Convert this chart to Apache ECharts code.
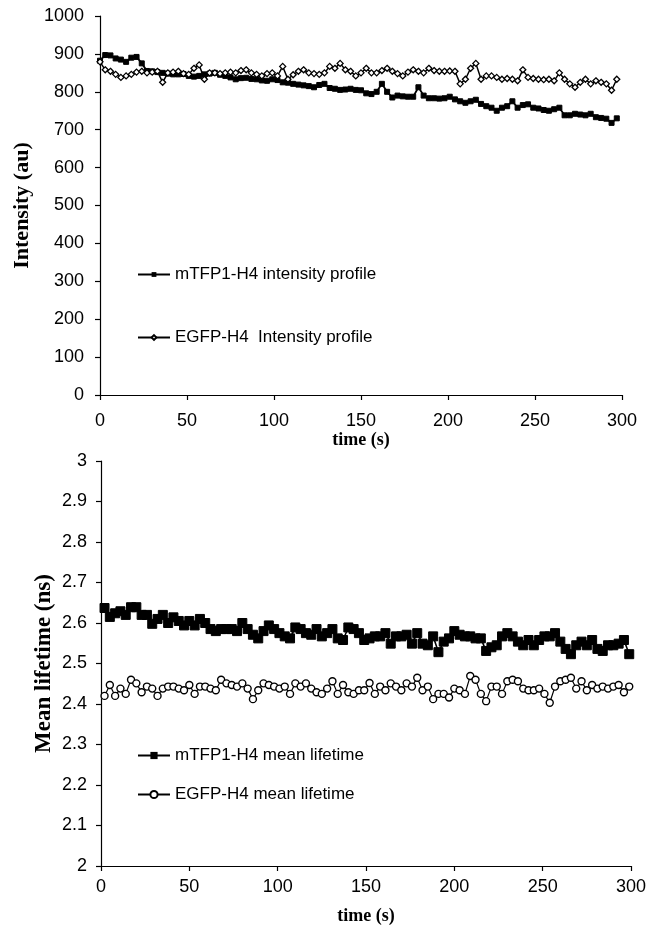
<!DOCTYPE html>
<html>
<head>
<meta charset="utf-8">
<script src="https://cdn.jsdelivr.net/npm/echarts@6/dist/echarts.min.js"></script>
<style>
html,body{margin:0;padding:0;background:#fff;}
#chart{width:661px;height:929px;}
</style>
</head>
<body>
<div id="chart"></div>
<script>
// ---------- DATA ----------
const timeTop = [0,3,6,9,12,15,18,21,24,27,30,33,36,39,42,45,48,51,54,57,60,63,66,69,72,75,78,81,84,87,90,93,96,99,102,105,108,111,114,117,120,123,126,129,132,135,138,141,144,147,150,153,156,159,162,165,168,171,174,177,180,183,186,189,192,195,198,201,204,207,210,213,216,219,222,225,228,231,234,237,240,243,246,249,252,255,258,261,264,267,270,273,276,279,282,285,288,291,294,297];
const mtfpIntensity = [882,897,896,888,885,879,890,892,875,855,854,852,850,848,846,846,847,842,840,842,846,848,850,845,842,838,833,836,837,834,833,830,829,833,831,825,824,821,819,817,815,812,818,821,810,808,805,806,808,805,804,796,794,800,821,800,785,790,788,787,787,812,790,783,783,782,783,787,780,775,771,775,779,768,762,758,750,758,762,775,758,765,767,758,756,752,750,754,758,738,738,742,740,738,742,733,731,729,718,730];
const egfpIntensity = [879,858,854,846,838,842,846,852,854,850,852,854,825,850,852,854,848,846,862,871,833,850,850,848,850,852,850,856,858,850,846,842,848,850,842,867,833,845,854,858,850,848,846,850,867,862,875,858,854,842,850,862,850,850,856,862,854,848,842,852,858,854,850,862,856,854,854,855,854,821,833,862,875,833,842,842,838,833,835,833,829,858,838,835,833,832,833,829,850,833,821,812,825,833,821,829,825,821,804,833];

const timeBottom = [2,5,8,11,14,17,20,23,26,29,32,35,38,41,44,47,50,53,56,59,62,65,68,71,74,77,80,83,86,89,92,95,98,101,104,107,110,113,116,119,122,125,128,131,134,137,140,143,146,149,152,155,158,161,164,167,170,173,176,179,182,185,188,191,194,197,200,203,206,209,212,215,218,221,224,227,230,233,236,239,242,245,248,251,254,257,260,263,266,269,272,275,278,281,284,287,290,293,296,299];
const mtfpLifetime = [2.637,2.615,2.624,2.629,2.62,2.639,2.639,2.62,2.62,2.598,2.61,2.62,2.60,2.614,2.605,2.594,2.605,2.594,2.61,2.60,2.585,2.58,2.585,2.585,2.585,2.58,2.60,2.585,2.571,2.562,2.58,2.594,2.585,2.575,2.567,2.562,2.589,2.585,2.575,2.571,2.585,2.567,2.575,2.585,2.562,2.558,2.589,2.585,2.575,2.558,2.562,2.567,2.567,2.575,2.549,2.567,2.567,2.571,2.549,2.575,2.549,2.545,2.567,2.528,2.554,2.562,2.58,2.571,2.567,2.567,2.562,2.562,2.531,2.54,2.545,2.567,2.575,2.567,2.554,2.545,2.558,2.545,2.558,2.567,2.567,2.575,2.554,2.536,2.523,2.545,2.554,2.545,2.558,2.536,2.531,2.545,2.545,2.549,2.558,2.523];
const egfpLifetime = [2.42,2.447,2.42,2.438,2.425,2.46,2.451,2.429,2.443,2.438,2.42,2.438,2.443,2.443,2.438,2.434,2.447,2.425,2.443,2.443,2.438,2.434,2.46,2.451,2.447,2.443,2.451,2.438,2.412,2.434,2.451,2.447,2.443,2.438,2.443,2.425,2.451,2.443,2.451,2.438,2.429,2.425,2.438,2.456,2.425,2.447,2.429,2.425,2.434,2.434,2.452,2.425,2.443,2.434,2.451,2.443,2.434,2.451,2.443,2.465,2.434,2.443,2.412,2.425,2.425,2.416,2.438,2.434,2.425,2.469,2.46,2.425,2.407,2.443,2.443,2.425,2.456,2.46,2.456,2.438,2.434,2.434,2.438,2.425,2.403,2.443,2.456,2.46,2.465,2.438,2.456,2.434,2.447,2.438,2.443,2.438,2.443,2.447,2.429,2.443];

const xTickLabels = ['0','50','100','150','200','250','300'];
const yTopTickLabels = ['0','100','200','300','400','500','600','700','800','900','1000'];
const yBottomTickLabels = ['2','2.1','2.2','2.3','2.4','2.5','2.6','2.7','2.8','2.9','3'];

const seriesNames = ['mTFP1-H4 intensity profile','EGFP-H4  Intensity profile','mTFP1-H4 mean lifetime','EGFP-H4 mean lifetime'];
const xTitle = 'time (s)';
const yTopTitle = 'Intensity (au)';
const yBottomTitle = 'Mean lifetime (ns)';

// ---------- CHART ----------
const SANS = "'Liberation Sans',Arial,sans-serif";
const SERIF = "'Liberation Serif','Times New Roman',serif";
const pair = (xs, ys) => xs.map((x, i) => [x, ys[i]]);

const axisCommon = {
  axisLine: {show: true, lineStyle: {color: '#000', width: 1.2}},
  axisTick: {show: true, inside: false, length: 5, lineStyle: {color: '#000', width: 1.2}},
  splitLine: {show: false}
};
const tickLabelStyle = {color: '#000', fontFamily: SANS, fontSize: 18};
const xTitleStyle = {color: '#000', fontFamily: SERIF, fontWeight: 'bold', fontSize: 18};

const chart = echarts.init(document.getElementById('chart'), null, {renderer: 'canvas'});
chart.setOption({
  backgroundColor: '#fff',
  animation: false,
  grid: [
    {left: 100, right: 39, top: 16, bottom: 534},
    {left: 101, right: 30, top: 461, bottom: 63}
  ],
  xAxis: [
    Object.assign({}, axisCommon, {
      gridIndex: 0, type: 'value', min: 0, max: 300, interval: 50,
      name: xTitle, nameLocation: 'middle', nameGap: 35, nameTextStyle: xTitleStyle,
      axisLabel: Object.assign({margin: 17, formatter: v => xTickLabels[Math.round(v / 50)]}, tickLabelStyle)
    }),
    Object.assign({}, axisCommon, {
      gridIndex: 1, type: 'value', min: 0, max: 300, interval: 50,
      name: xTitle, nameLocation: 'middle', nameGap: 41, nameTextStyle: xTitleStyle,
      axisLabel: Object.assign({margin: 12, formatter: v => xTickLabels[Math.round(v / 50)]}, tickLabelStyle)
    })
  ],
  yAxis: [
    Object.assign({}, axisCommon, {
      gridIndex: 0, type: 'value', min: 0, max: 1000, interval: 100,
      name: yTopTitle, nameLocation: 'middle', nameGap: 67, nameMoveOverlap: false,
      nameTextStyle: {color: '#000', fontFamily: SERIF, fontWeight: 'bold', fontSize: 22},
      axisLabel: Object.assign({margin: 16, formatter: v => yTopTickLabels[Math.round(v / 100)]}, tickLabelStyle)
    }),
    Object.assign({}, axisCommon, {
      gridIndex: 1, type: 'value', min: 2, max: 3, interval: 0.1,
      name: yBottomTitle, nameLocation: 'middle', nameGap: 45, nameMoveOverlap: false,
      nameTextStyle: {color: '#000', fontFamily: SERIF, fontWeight: 'bold', fontSize: 23},
      axisLabel: Object.assign({margin: 14, formatter: v => yBottomTickLabels[Math.round((v - 2) * 10)]}, tickLabelStyle)
    })
  ],
  legend: [
    {
      data: [seriesNames[0], seriesNames[1]], orient: 'vertical', left: 132, top: 261, itemGap: 46,
      itemWidth: 32, itemHeight: 6, textStyle: {color: '#000', fontFamily: SANS, fontSize: 17}
    },
    {
      data: [seriesNames[2], seriesNames[3]], orient: 'vertical', left: 132, top: 742, itemGap: 22,
      itemWidth: 32, itemHeight: 9, textStyle: {color: '#000', fontFamily: SANS, fontSize: 17}
    }
  ],
  series: [
    {
      name: seriesNames[0], type: 'line', xAxisIndex: 0, yAxisIndex: 0,
      data: pair(timeTop, mtfpIntensity),
      symbol: 'rect', symbolSize: 5, showAllSymbol: true,
      lineStyle: {color: '#000', width: 1.8}, itemStyle: {color: '#000', borderColor: '#000'}
    },
    {
      name: seriesNames[1], type: 'line', xAxisIndex: 0, yAxisIndex: 0,
      data: pair(timeTop, egfpIntensity),
      symbol: 'diamond', symbolSize: 6, showAllSymbol: true,
      lineStyle: {color: '#000', width: 1.5}, itemStyle: {color: '#fff', borderColor: '#000', borderWidth: 1.3}
    },
    {
      name: seriesNames[2], type: 'line', xAxisIndex: 1, yAxisIndex: 1,
      data: pair(timeBottom, mtfpLifetime),
      symbol: 'rect', symbolSize: 9, showAllSymbol: true,
      lineStyle: {color: '#000', width: 1.6}, itemStyle: {color: '#000', borderColor: '#000'}
    },
    {
      name: seriesNames[3], type: 'line', xAxisIndex: 1, yAxisIndex: 1,
      data: pair(timeBottom, egfpLifetime),
      symbol: 'circle', symbolSize: 7, showAllSymbol: true,
      lineStyle: {color: '#000', width: 1.2}, itemStyle: {color: '#fff', borderColor: '#000', borderWidth: 1.4}
    }
  ]
});
</script>
</body>
</html>
